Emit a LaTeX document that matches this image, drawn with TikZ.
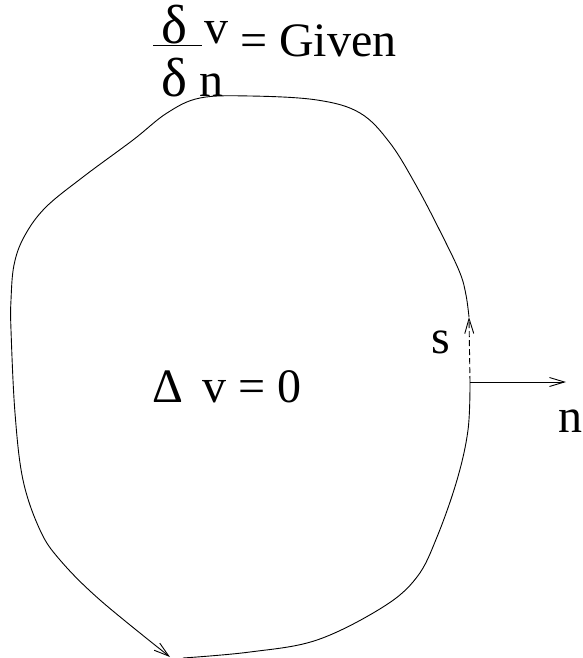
\documentclass[tikz,border=0pt]{standalone}
\usepackage{fontspec}
\setmainfont{Liberation Serif}
\usetikzlibrary{arrows.meta}
\tikzset{
  lbl/.style={anchor=base west, inner sep=0pt, font=\fontsize{48}{58}\selectfont},
  big/.style={anchor=base west, inner sep=0pt, font=\fontsize{55}{66}\selectfont},
  curve/.style={line width=0.9pt, line join=round},
  barb/.style={-{Straight Barb[length=15pt,width=9pt,line width=0.9pt]}},
}
\begin{document}
\begin{tikzpicture}[x=1pt,y=-1pt]
\useasboundingbox (0,0) rectangle (582,658);
% texts
\node[big] (dtop) at (161,44) {δ};
\node[lbl] (vtop) at (204,44) {v};
\node[lbl] (given) at (240,57) {= Given};
\node[big] (dbot) at (161,97) {δ};
\node[lbl] (nbot) at (199,97) {n};
\node[lbl] (Delta) at (152,402) {Δ};
\node[lbl] (veq) at (202,402) {v = 0};
\node[lbl] (s) at (431,353) {s};
\node[lbl] (n) at (558,432) {n};
% fraction bar
\coordinate (barL) at (153,45);
\coordinate (barR) at (202,45);
\draw[curve] (barL) -- (barR);
% boundary curve
\draw[curve] plot[smooth, tension=0.6] coordinates {
 (183,658) (250,652) (317,640) (383,607) (417,577) (437,537) (457,480) (468,430) (470,382)};
\draw[curve, barb] plot[smooth, tension=0.6] coordinates {
 (469,317) (466,295) (460,273) (443,237) (417,187) (390,143) (360,113) (317,100) (250,96)
 (200,98) (167,113) (133,140) (83,177) (45,208) (24,237) (14,265) (11,300) (11,330)
 (15,413) (23,480) (40,530) (60,560) (100,600) (170,657)};
% tangent and normal arrows
\coordinate (P) at (470,382);
\coordinate (Ps) at (469,317);
\coordinate (Pn) at (566,382);
\draw[curve, dashed, dash pattern=on 6pt off 3pt, barb] (P) -- (Ps);
\draw[curve, barb] (P) -- (Pn);
\end{tikzpicture}
\end{document}
